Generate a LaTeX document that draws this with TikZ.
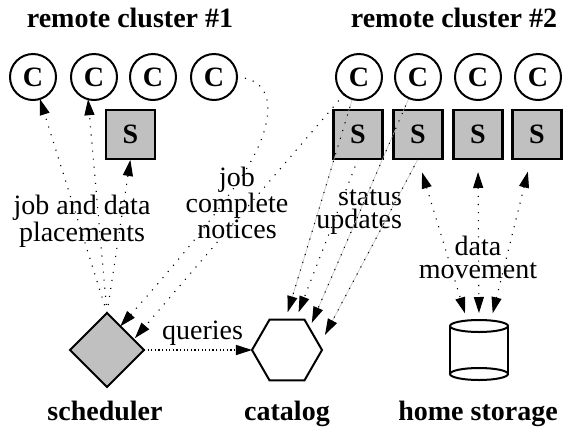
\documentclass[tikz,border=0pt]{standalone}
\usepackage{fontspec}
\setmainfont{Liberation Serif}
\usetikzlibrary{shapes.geometric,arrows.meta,calc}
\definecolor{figgray}{RGB}{192,192,192}
\begin{document}
\begin{tikzpicture}[x=1pt,y=-1pt,
  every node/.style={inner sep=0pt, outer sep=0pt, font=\fontsize{28}{23}\selectfont},
  cnode/.style={circle, draw, line width=2pt, minimum size=46pt, font=\fontsize{28}{23}\selectfont\bfseries},
  snode/.style={rectangle, draw, line width=2.2pt, fill=figgray, minimum size=49pt, font=\fontsize{28}{23}\selectfont\bfseries},
  title/.style={anchor=base, font=\fontsize{28}{23}\selectfont\bfseries},
  lbl/.style={anchor=base, align=center},
  dots/.style={line width=1.1pt, dash pattern=on 1.1pt off 7pt},
  arr/.style={dots, -{Triangle[length=16pt,width=10pt]}},
  darr/.style={dots, {Triangle[length=16pt,width=10pt]}-{Triangle[length=16pt,width=10pt]}},
  gline/.style={preaction={draw=gray!55, line width=0.5pt, solid, -}},
]
\useasboundingbox (0,0) rectangle (563,429);

% titles
\node[title] (t1) at (130,27) {remote cluster \#1};
\node[title] (t2) at (454,27) {remote cluster \#2};

% cluster 1
\node[cnode] (c11) at (33,77) {C};
\node[cnode] (c12) at (94,77) {C};
\node[cnode] (c13) at (153,77) {C};
\node[cnode] (c14) at (214,77) {C};
\node[snode] (s11) at (130.5,134.5) {S};

% cluster 2
\node[cnode] (c21) at (359,77) {C};
\node[cnode] (c22) at (418,77) {C};
\node[cnode] (c23) at (478,77) {C};
\node[cnode] (c24) at (538,77) {C};
\node[snode] (s21) at (358,134.5) {S};
\node[snode] (s22) at (418,134.5) {S};
\node[snode] (s23) at (478,134.5) {S};
\node[snode] (s24) at (537,134.5) {S};

% bottom components
\node[diamond, aspect=1, draw, line width=2pt, fill=figgray, minimum size=74pt] (sched) at (107,350) {};
\node[regular polygon, regular polygon sides=6, draw, line width=2pt, minimum size=70pt] (cat) at (287,350) {};
\node[rectangle, minimum width=58pt, minimum height=60pt] (store) at (479,350) {};
\draw[line width=2pt] (450,326) -- (450,374) (508,326) -- (508,374);
\draw[line width=2pt] (479,326) ellipse [x radius=29, y radius=6];
\draw[line width=2pt] (479,374) ellipse [x radius=29, y radius=6];

% bottom labels
\node[title] (lsched) at (105,420) {scheduler};
\node[title] (lcat) at (287,420) {catalog};
\node[title] (lstore) at (478,420) {home storage};

% edge labels (base = last line's baseline)
\node[lbl] (ljob) at (82,241) {job and data\\placements};
\node[lbl] (lcomp) at (237,238) {job\\complete\\notices};
\node[lbl, align=right, anchor=base east] (lstat) at (402,228) {status\\updates};
\node[lbl] (ldata) at (478,278) {data\\movement};
\node[lbl] (lq) at (202.5,339) {queries};

% job and data placements
\draw[arr] (sched.north) -- (c11);
\draw[arr] (sched.north) -- (c12.255);
\draw[arr, shorten >=1pt] (sched.north) -- (s11.south);

% job complete notices
\coordinate (jc1) at ($(sched.north)!0.36!(sched.east)$);
\coordinate (jc2) at ($(sched.north)!0.72!(sched.east)$);
\draw[arr] (c14.east) .. controls (280,80) and (272,125) .. (250,163)
  .. controls (228,201) and (175,265) .. (jc1);
\draw[arr, shorten >=2pt] (c21) -- (jc2);

% status updates
\draw[arr, gline, shorten >=8pt] (c21) -- (cat.93);
\draw[arr, shorten >=8pt] (s21.south) -- (cat.74);
\draw[arr, gline, shorten >=6pt] (c22) -- (cat.44);
\draw[arr, gline, shorten >=12pt] (s22.south) -- (cat.8);

% queries
\draw[line width=1.1pt, dash pattern=on 1.1pt off 2.5pt, -{Triangle[length=16pt,width=10pt]}] (sched.east) -- (cat.west);

% data movement
\draw[darr, shorten <=14pt, shorten >=7pt] (s22.south) -- ($(store.north)+(-12,0)$);
\draw[darr, shorten <=13pt, shorten >=7pt] (s23.south) -- (store.north);
\draw[darr, shorten <=13pt, shorten >=7pt] ($(s24.south)+(-6,0)$) -- ($(store.north)+(12,0)$);
\end{tikzpicture}
\end{document}
